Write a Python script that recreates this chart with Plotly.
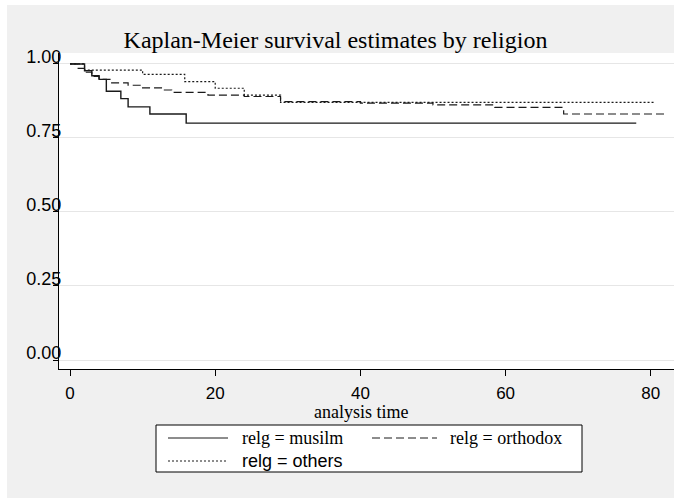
import plotly.graph_objects as go

# ---- data ----
musilm_t = [0, 2, 3, 4, 5, 7, 8, 11, 16, 78]
musilm_s = [1.0, 0.977, 0.960, 0.948, 0.908, 0.883, 0.855, 0.831, 0.800, 0.800]

orthodox_t = [0, 1, 2, 3, 4, 5.5, 8, 10, 13, 14, 19, 24, 29, 40, 50, 58.5, 68, 82]
orthodox_s = [1.0, 0.985, 0.972, 0.958, 0.948, 0.936, 0.928, 0.919, 0.912, 0.904,
              0.895, 0.890, 0.873, 0.868, 0.862, 0.853, 0.831, 0.831]

others_t = [0, 2, 10, 15.8, 20, 24, 29, 80.5]
others_s = [1.0, 0.979, 0.965, 0.940, 0.918, 0.895, 0.870, 0.870]

x_ticks = [0, 20, 40, 60, 80]
y_ticks = [0.0, 0.25, 0.50, 0.75, 1.00]
y_tick_labels = ["0.00", "0.25", "0.50", "0.75", "1.00"]

series_names = ["relg = musilm", "relg = orthodox", "relg = others"]

# ---- layout geometry (pixels) ----
W, H = 674, 504
L, R, T, B = 59, 0, 53, 135
PW, PH = W - L - R, H - T - B


def px_x(p):
    return (p - L) / PW


def px_y(p):
    return (H - B - p) / PH


LINE_COLOR = "#1a1a1a"
styles = [
    dict(color=LINE_COLOR, width=1.4, dash="solid"),
    dict(color=LINE_COLOR, width=1.2, dash="8px,4px"),
    dict(color=LINE_COLOR, width=1.2, dash="2px,2px"),
]

fig = go.Figure()
for (tt, ss), st, nm in zip([(musilm_t, musilm_s), (orthodox_t, orthodox_s), (others_t, others_s)],
                            styles, series_names):
    fig.add_trace(go.Scatter(x=tt, y=ss, mode="lines", line=st, line_shape="hv",
                             name=nm, showlegend=False, hoverinfo="skip"))

SANS = "Liberation Sans, Arial, sans-serif"
SERIF = "Liberation Serif, Times New Roman, serif"

fig.update_layout(
    width=W, height=H,
    margin=dict(l=L, r=R, t=T, b=B),
    paper_bgcolor="#f0f0f0",
    plot_bgcolor="white",
    title=dict(text="Kaplan-Meier survival estimates by religion",
               font=dict(family=SERIF, size=24, color="black"),
               x=(335.5) / W, xref="container", xanchor="center",
               y=1 - 40 / H, yref="container", yanchor="middle"),
    xaxis=dict(range=[-1.52, 83.2], tickvals=x_ticks, showgrid=False, zeroline=False,
               showline=True, linecolor="black", linewidth=1,
               ticks="outside", ticklen=6, tickcolor="black", tickwidth=1,
               tickfont=dict(family=SANS, size=17, color="black"),
               ticklabelstandoff=3),
    yaxis=dict(range=[-0.0304, 1.037], tickvals=y_ticks, ticktext=y_tick_labels,
               showgrid=True, gridcolor="#e6e6e6", gridwidth=1, zeroline=False,
               showline=True, linecolor="black", linewidth=1,
               ticks="outside", ticklen=5, tickcolor="black", tickwidth=1,
               tickfont=dict(family=SANS, size=18, color="black"),
               ticklabelstandoff=-12, ticklabelshift=-7),
)

shapes = []
annotations = []

# white outer margins
for x0, x1, y0, y1 in [(0, 7, 0, H), (0, W, 0, 5), (0, W, 498, H)]:
    shapes.append(dict(type="rect", xref="paper", yref="paper",
                       x0=px_x(x0), x1=px_x(x1), y0=px_y(y1), y1=px_y(y0),
                       fillcolor="white", line=dict(width=0), layer="above"))

# x axis title
annotations.append(dict(text="analysis time", xref="paper", yref="paper",
                        x=px_x(361), y=px_y(400), showarrow=False,
                        xanchor="center", yanchor="top",
                        font=dict(family=SERIF, size=18, color="black")))

# legend box
shapes.append(dict(type="rect", xref="paper", yref="paper",
                   x0=px_x(156), x1=px_x(582), y0=px_y(472), y1=px_y(425),
                   fillcolor="white", line=dict(color="black", width=1)))

legend_items = [
    (series_names[0], 168, 228, 240, 438, SERIF, 18),
    (series_names[1], 372, 437, 448, 438, SERIF, 18),
    (series_names[2], 168, 228, 240, 461, SANS, 18),
]
for (nm, sx0, sx1, tx, yy, fam, fs), st in zip(legend_items, styles):
    shapes.append(dict(type="line", xref="paper", yref="paper",
                       x0=px_x(sx0), x1=px_x(sx1), y0=px_y(yy), y1=px_y(yy),
                       line=dict(color=st["color"], width=1, dash=st["dash"])))
    annotations.append(dict(text=nm, xref="paper", yref="paper",
                            x=px_x(tx), y=px_y(yy), showarrow=False,
                            xanchor="left", yanchor="middle",
                            font=dict(family=fam, size=fs, color="black")))

fig.update_layout(shapes=shapes, annotations=annotations)

fig.write_html("out.html")
